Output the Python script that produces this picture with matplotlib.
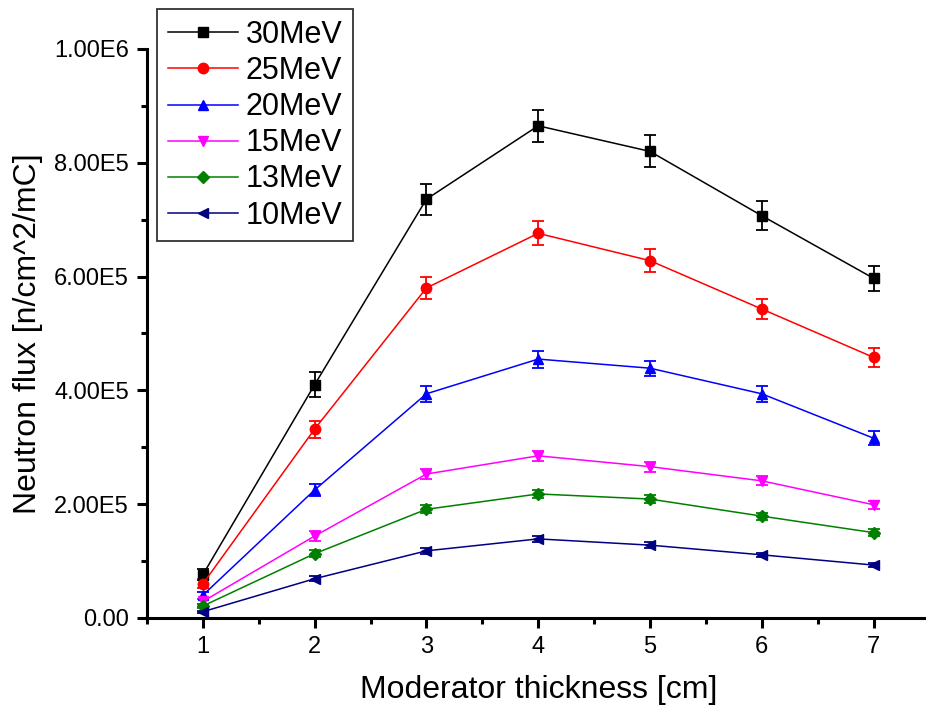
import matplotlib.pyplot as plt
from matplotlib.ticker import FuncFormatter, MultipleLocator

plt.rcParams['font.family'] = ['Liberation Sans', 'DejaVu Sans']

thickness = [1, 2, 3, 4, 5, 6, 7]

flux_30 = [0.076e6, 0.410e6, 0.736e6, 0.865e6, 0.820e6, 0.707e6, 0.597e6]
err_30 = [0.010e6, 0.022e6, 0.027e6, 0.028e6, 0.028e6, 0.025e6, 0.022e6]
flux_25 = [0.060e6, 0.332e6, 0.580e6, 0.676e6, 0.628e6, 0.543e6, 0.458e6]
err_25 = [0.008e6, 0.015e6, 0.020e6, 0.021e6, 0.020e6, 0.018e6, 0.017e6]
flux_20 = [0.040e6, 0.225e6, 0.394e6, 0.455e6, 0.439e6, 0.394e6, 0.316e6]
err_20 = [0.006e6, 0.010e6, 0.014e6, 0.015e6, 0.0135e6, 0.014e6, 0.012e6]
flux_15 = [0.029e6, 0.144e6, 0.253e6, 0.285e6, 0.266e6, 0.241e6, 0.199e6]
err_15 = [0.004e6, 0.008e6, 0.009e6, 0.009e6, 0.009e6, 0.008e6, 0.007e6]
flux_13 = [0.021e6, 0.113e6, 0.191e6, 0.218e6, 0.209e6, 0.179e6, 0.150e6]
err_13 = [0.003e6, 0.006e6, 0.007e6, 0.007e6, 0.007e6, 0.006e6, 0.006e6]
flux_10 = [0.011e6, 0.069e6, 0.118e6, 0.139e6, 0.128e6, 0.111e6, 0.093e6]
err_10 = [0.002e6, 0.004e6, 0.005e6, 0.005e6, 0.005e6, 0.004e6, 0.004e6]

labels = ['30MeV', '25MeV', '20MeV', '15MeV', '13MeV', '10MeV']
colors = ['black', '#ff0000', '#0000ff', '#ff00ff', '#008000', '#000080']
markers = ['s', 'o', '^', 'v', 'D', '<']
fluxes = [flux_30, flux_25, flux_20, flux_15, flux_13, flux_10]
errors = [err_30, err_25, err_20, err_15, err_13, err_10]

fig = plt.figure(figsize=(9.26, 7.16), dpi=100)
ax = fig.add_axes([0.1587, 0.1369, 0.845, 0.7947])

handles = []
for y, e, c, m, lab in zip(fluxes, errors, colors, markers, labels):
    ms = 6.5 if m == 'D' else 7.5
    cont = ax.errorbar(thickness, y, yerr=e, color=c, marker=m, markersize=ms,
                       linewidth=1.1, elinewidth=1.3, capsize=4, capthick=1.3,
                       label=lab)
    # legend shows only the line + marker, not the error bars
    handles.append(cont.lines[0])

ax.set_xlim(0.5, 7.5)
ax.set_ylim(0, 1.0e6)
ax.xaxis.set_major_locator(MultipleLocator(1))
ax.xaxis.set_minor_locator(MultipleLocator(0.5))
ax.yaxis.set_major_locator(MultipleLocator(2e5))
ax.yaxis.set_minor_locator(MultipleLocator(1e5))


def sci_label(v, pos):
    if v == 0:
        return '0.00'
    s = '%.2E' % v
    mant, ex = s.split('E')
    return '%sE%d' % (mant, int(ex))


ax.yaxis.set_major_formatter(FuncFormatter(sci_label))

for side in ['top', 'right']:
    ax.spines[side].set_visible(False)
for side in ['left', 'bottom']:
    ax.spines[side].set_linewidth(2.2)

ax.tick_params(which='major', length=7, width=2.2, labelsize=17, pad=6)
ax.tick_params(which='minor', length=4, width=2.2)

ax.set_xlabel('Moderator thickness [cm]', fontsize=23, labelpad=12)
ax.set_ylabel('Neutron flux [n/cm^2/mC]', fontsize=23, labelpad=8)

leg = ax.legend(handles, labels, loc='upper left',
                bbox_to_anchor=(0.1695, 0.987),
                bbox_transform=fig.transFigure, borderaxespad=0,
                fontsize=22, frameon=True, fancybox=False, handlelength=2.3,
                handletextpad=0.25, labelspacing=0.2, borderpad=0.35)
leg.get_frame().set_edgecolor('black')
leg.get_frame().set_linewidth(1.3)

fig.savefig('out.png', dpi=100)
